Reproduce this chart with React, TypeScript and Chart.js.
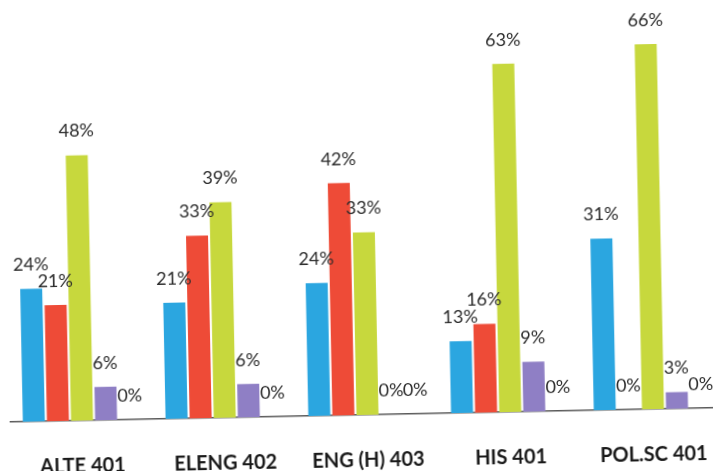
import React, { useEffect, useRef } from "react";
import { Chart, registerables } from "chart.js";

Chart.register(...registerables);

const categories = ["ALTE 401", "ELENG 402", "ENG (H) 403", "HIS 401", "POL.SC 401"];
const seriesA = [24, 21, 24, 13, 31];
const seriesB = [21, 33, 42, 16, 0];
const seriesC = [48, 39, 33, 63, 66];
const seriesD = [6, 6, 0, 9, 3];
const seriesE = [0, 0, 0, 0, 0];
const seriesNames = ["A", "B", "C", "D", "E"];
const seriesColors = ["#2ba6e0", "#ee4b37", "#c7d83d", "#8f7fc5", "#f59b3a"];

const labelPlugin = {
  id: "valueLabels",
  afterDatasetsDraw(chart: any) {
    const ctx = chart.ctx;
    ctx.save();
    ctx.font = "18px Lato";
    ctx.fillStyle = "#2b2b2b";
    ctx.textAlign = "center";
    ctx.textBaseline = "middle";
    chart.data.datasets.forEach((ds: any, i: number) => {
      const meta = chart.getDatasetMeta(i);
      meta.data.forEach((el: any, j: number) => {
        ctx.fillText(`${ds.data[j]}%`, el.x, el.y - 24);
      });
    });
    ctx.restore();
  },
};

export default function App() {
  const ref = useRef<HTMLCanvasElement>(null);
  useEffect(() => {
    if (!ref.current) return;
    const data = [seriesA, seriesB, seriesC, seriesD, seriesE];
    const chart = new Chart(ref.current, {
      type: "bar",
      data: {
        labels: categories,
        datasets: data.map((d, i) => ({
          label: seriesNames[i],
          data: d,
          backgroundColor: seriesColors[i],
          categoryPercentage: 0.844,
          barPercentage: 0.913,
        })),
      },
      options: {
        animation: false,
        responsive: false,
        maintainAspectRatio: false,
        layout: { padding: { top: 28, left: 7, right: 8, bottom: 0 } },
        plugins: { legend: { display: false }, tooltip: { enabled: false } },
        scales: {
          y: { display: false, min: 0, max: 70 },
          x: {
            grid: { display: false },
            border: { display: true, color: "#5a5a5a", width: 1.5 },
            ticks: {
              padding: 26,
              color: "#1a1a1a",
              font: { family: "Lato", size: 20, weight: "bold" },
            },
            afterFit: (scale: any) => {
              scale.height = 56;
            },
          },
        },
      },
      plugins: [labelPlugin],
    });
    return () => chart.destroy();
  }, []);
  return (
    <div style={{ position: "fixed", left: 0, top: 0, width: 713, height: 471, overflow: "hidden", background: "#fff" }}>
      <div
        style={{
          position: "absolute",
          left: 0,
          top: 0,
          width: 730,
          height: 471,
          transform: "rotate(-1.15deg)",
          transformOrigin: "356.5px 235.5px",
        }}
      >
        <canvas ref={ref} width={730} height={471} style={{ display: "block" }} />
      </div>
    </div>
  );
}
